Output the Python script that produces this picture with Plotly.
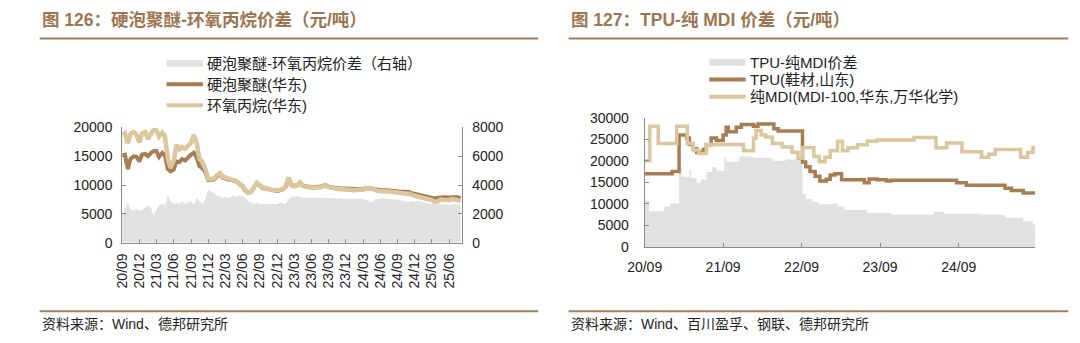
import pandas as pd
import plotly.graph_objects as go

# ---------------- 图126：硬泡聚醚-环氧丙烷价差 (semi-monthly, from 2020-09-01) ----------------
pe_dates = pd.date_range("2020-09-01", periods=119, freq="SMS")

po_price = [  # 环氧丙烷(华东)
    18700, 19000, 17300, 18900, 19200, 18800, 17400, 19000, 19200, 18000,
    18900, 19600, 19500, 18400, 19100, 18500, 14600, 13000, 14200, 17000,
    16200, 16600, 16300, 16900, 17400, 18700, 17300, 14600, 14000, 12900,
    11100, 11000, 11200, 11700, 12100, 11500, 11300, 11100, 11000, 10900,
    10700, 10300, 9900, 9100, 8700, 8800, 9700, 10400, 10000, 9600,
    9500, 9300, 9200, 9100, 9100, 9200, 9300, 9800, 11300, 10000,
    9800, 9900, 10500, 9900, 9700, 9600, 9500, 9500, 9600, 9600,
    9800, 9900, 9600, 9500, 9400, 9300, 9300, 9300, 9200, 9200,
    9200, 9100, 9200, 9200, 9200, 9500, 9500, 9400, 9200, 9000,
    9000, 8900, 8900, 8900, 8800, 8800, 8700, 8700, 8600, 8500,
    8500, 8300, 8200, 8000, 7900, 7800, 7600, 7500, 7400, 7100,
    7200, 7500, 7400, 7500, 7400, 7600, 7500, 7500, 7300,
]
pe_price = [  # 硬泡聚醚(华东)
    15200, 15300, 12800, 14600, 15000, 14900, 14100, 15300, 15400, 15000,
    15600, 15900, 15900, 14900, 15600, 15200, 12800, 12400, 12700, 14100,
    14000, 14500, 14300, 14800, 15300, 15600, 14800, 13300, 12900, 12300,
    10900, 10900, 11000, 11500, 11900, 11300, 11100, 11000, 10900, 10800,
    10600, 10200, 9800, 9000, 8700, 8800, 9600, 10300, 9900, 9500,
    9400, 9300, 9200, 9100, 9000, 9100, 9300, 9700, 11200, 10000,
    9900, 9900, 10400, 10000, 9800, 9700, 9600, 9600, 9700, 9700,
    9900, 10000, 9700, 9600, 9500, 9500, 9400, 9400, 9400, 9400,
    9400, 9300, 9300, 9300, 9300, 9500, 9500, 9400, 9300, 9200,
    9200, 9100, 9100, 9100, 9000, 9000, 8900, 8900, 8900, 8800,
    8800, 8600, 8500, 8400, 8300, 8200, 8000, 7900, 7900, 7700,
    7800, 7900, 7900, 7900, 7800, 7900, 7900, 7900, 7700,
]
pe_po_spread = [  # 硬泡聚醚-环氧丙烷价差（右轴）
    1900, 2400, 2850, 2300, 2200, 2400, 2200, 2300, 2500, 2600,
    2400, 1900, 2300, 2600, 2700, 2600, 3300, 2900, 2700, 2800,
    2700, 2900, 2700, 2800, 2900, 2600, 3100, 2900, 2700, 3000,
    3700, 3600, 3400, 3300, 3200, 3100, 3200, 3100, 3200, 3300,
    3200, 3300, 3200, 3100, 2900, 2800, 2700, 2800, 2700, 2700,
    2650, 2700, 2700, 2650, 2700, 2800, 2750, 2700, 3000, 3200,
    3200, 3250, 3200, 3100, 3150, 3100, 3100, 3150, 3100, 3100,
    3100, 3150, 3100, 3050, 3100, 3050, 3100, 3050, 3050, 3100,
    3050, 3050, 3100, 3050, 3050, 3000, 2900, 2800, 3000, 3050,
    3050, 3100, 3050, 3050, 3000, 3050, 3000, 2950, 2900, 2900,
    2850, 2900, 2850, 2900, 2850, 2800, 2750, 2700, 2700, 2650,
    2700, 2650, 2700, 2650, 2600, 2650, 2650, 2700, 2600,
]
pe_tickvals = pd.date_range("2020-09-01", "2025-06-01", freq="3MS")
pe_ticktext = ["20/09", "20/12", "21/03", "21/06", "21/09", "21/12", "22/03", "22/06",
               "22/09", "22/12", "23/03", "23/06", "23/09", "23/12", "24/03", "24/06",
               "24/09", "24/12", "25/03", "25/06"]

# ---------------- 图127：TPU-纯MDI价差 (weekly quotes, kept as step changes) ----------------
tpu_dates = ["2020-09-01", "2021-01-07", "2021-02-08", "2021-03-15", "2021-03-28", "2021-04-15",
             "2021-05-01", "2021-06-01", "2021-06-15", "2021-07-07", "2021-08-01", "2021-09-01",
             "2021-09-15", "2021-09-25", "2021-11-01", "2021-11-25", "2022-01-20", "2022-02-10",
             "2022-04-25", "2022-05-15", "2022-09-05", "2022-09-20", "2022-10-10", "2022-11-03",
             "2022-11-25", "2022-12-25", "2023-01-12", "2023-02-03", "2023-03-06", "2023-06-20",
             "2023-07-12", "2023-08-18", "2023-10-01", "2023-10-22", "2024-08-22", "2024-10-06",
             "2025-04-04", "2025-05-04", "2025-06-28", "2025-08-22"]
tpu_price = [17000, 17500, 26000, 25300, 23800, 22800, 21900, 22600, 23700, 25300,
             24700, 26000, 27800, 26700, 27800, 28400, 28000, 28500, 27400, 26900,
             19700, 18600, 17500, 16400, 15300, 15700, 16700, 17000, 15600, 14900,
             15800, 15600, 15300, 15500, 14900, 14300, 13600, 13100, 12500, 12500]

mdi_dates = ["2020-09-01", "2020-09-25", "2020-11-03", "2021-01-28", "2021-03-18", "2021-04-15",
             "2021-05-10", "2021-06-15", "2021-12-05", "2022-01-20", "2022-02-01", "2022-02-25",
             "2022-03-18", "2022-04-18", "2022-06-03", "2022-07-18", "2022-08-15", "2022-09-05",
             "2022-10-28", "2022-11-22", "2022-12-19", "2023-01-12", "2023-02-15", "2023-03-10",
             "2023-04-04", "2023-05-19", "2023-07-03", "2023-08-18", "2024-02-06", "2024-05-18",
             "2024-07-07", "2024-09-16", "2024-12-16", "2025-01-18", "2025-02-18", "2025-06-16",
             "2025-07-18", "2025-08-12", "2025-08-22"]
mdi_price = [20000, 28000, 24000, 28000, 24000, 22500, 21700, 23800, 22300, 25200,
             27000, 26000, 25500, 24000, 23200, 22000, 20600, 23000, 21000, 19800,
             20800, 22300, 24500, 22300, 23000, 23700, 24500, 24800, 25400, 23000,
             24100, 22100, 20800, 21500, 22600, 20800, 21900, 23000, 23000]

spd_dates = ["2020-09-01", "2020-09-21", "2020-12-01", "2020-12-28", "2021-02-08", "2021-02-20",
             "2021-03-28", "2021-04-05", "2021-05-01", "2021-05-20", "2021-06-15", "2021-07-12",
             "2021-08-01", "2021-09-06", "2021-09-15", "2021-11-15", "2022-01-18", "2022-04-18",
             "2022-06-18", "2022-09-05", "2022-09-20", "2022-10-20", "2022-11-20", "2023-01-25",
             "2023-02-15", "2023-03-20", "2023-07-03", "2023-10-22", "2024-05-08", "2024-06-25",
             "2024-12-10", "2025-04-04", "2025-06-28", "2025-08-12", "2025-08-22"]
tpu_mdi_spread = [10800, 8300, 9400, 10100, 17500, 16300, 18000, 16000, 14900, 15600,
                  17400, 18500, 17700, 20800, 19800, 21000, 20700, 20000, 20300, 12300,
                  11200, 10500, 9900, 10100, 9400, 8600, 7900, 7500, 8200, 7700,
                  7500, 6800, 6000, 5300, 5300]
tpu_tickvals = ["2020-09-01", "2021-09-01", "2022-09-01", "2023-09-01", "2024-09-01"]
tpu_ticktext = ["20/09", "21/09", "22/09", "23/09", "24/09"]

# ---------------- styling ----------------
W, H = 1080, 343
DARK = "#A97D52"
LIGHT = "#DCC69D"
GREY = "#E1E1E1"
BROWN = "#A47C57"
AXIS = "#8C8C8C"
TEXT = "#222222"
FONT = "Liberation Sans, Arial, Noto Sans CJK SC, sans-serif"


def px(x):
    return x / W


def py(y):
    return 1 - y / H


fig = go.Figure()

# left panel: spread area on the base (right-hand) axis, prices on the overlaying left axis
fig.add_trace(go.Scatter(x=pe_dates, y=pe_po_spread, mode="lines", line=dict(width=0),
                         fill="tozeroy", fillcolor=GREY, xaxis="x", yaxis="y",
                         name="硬泡聚醚-环氧丙烷价差（右轴）"))
fig.add_trace(go.Scatter(x=pe_dates, y=pe_price, mode="lines", line=dict(color=DARK, width=4),
                         xaxis="x", yaxis="y2", name="硬泡聚醚(华东)"))
fig.add_trace(go.Scatter(x=pe_dates, y=po_price, mode="lines", line=dict(color=LIGHT, width=4.5),
                         xaxis="x", yaxis="y2", name="环氧丙烷(华东)"))

# right panel
fig.add_trace(go.Scatter(x=spd_dates, y=tpu_mdi_spread, mode="lines", line=dict(width=0, shape="hv"),
                         fill="tozeroy", fillcolor=GREY, xaxis="x2", yaxis="y3",
                         name="TPU-纯MDI价差"))
fig.add_trace(go.Scatter(x=tpu_dates, y=tpu_price, mode="lines",
                         line=dict(color=DARK, width=3.5, shape="hv"),
                         xaxis="x2", yaxis="y3", name="TPU(鞋材,山东)"))
fig.add_trace(go.Scatter(x=mdi_dates, y=mdi_price, mode="lines",
                         line=dict(color=LIGHT, width=3.5, shape="hv"),
                         xaxis="x2", yaxis="y3", name="纯MDI(MDI-100,华东,万华化学)"))

tick_font = dict(family=FONT, size=14, color=TEXT)
common = dict(showgrid=False, zeroline=False, showline=True, linecolor=AXIS, linewidth=1,
              ticks="inside", ticklen=4, tickcolor=AXIS, tickwidth=1, tickfont=tick_font)

fig.update_layout(
    width=W, height=H,
    margin=dict(l=0, r=0, t=0, b=0),
    paper_bgcolor="white", plot_bgcolor="rgba(0,0,0,0)",
    showlegend=False, hovermode=False,
    xaxis=dict(domain=[px(106), px(452)], type="date", range=["2020-09-01", "2025-08-10"],
               anchor="y", tickmode="array", tickvals=pe_tickvals, ticktext=pe_ticktext,
               tickangle=-90, ticklabelstandoff=4, **common),
    yaxis=dict(domain=[py(246.3), py(125.3)], range=[0, 8000], dtick=2000, side="right",
               anchor="x", tickformat="d", ticklabelstandoff=6, **common),
    yaxis2=dict(overlaying="y", range=[0, 20000], dtick=5000, side="left", anchor="x",
                tickformat="d", ticklabelstandoff=6, **common),
    xaxis2=dict(domain=[px(637.3), px(1034.3)], type="date", range=["2020-09-01", "2025-08-22"],
                anchor="y3", tickmode="array", tickvals=tpu_tickvals, ticktext=tpu_ticktext,
                ticklabelstandoff=7, **common),
    yaxis3=dict(domain=[py(250.7), py(115)], range=[0, 30000], dtick=5000, side="left",
                anchor="x2", tickformat="d", ticklabelstandoff=12, **common),
)

shapes = []
annotations = []

# titles and rules
titles = [
    (22, 529, "<b>图 126：硬泡聚醚-环氧丙烷价差（元/吨）</b>"),
    (560, 1068, "<b>图 127：TPU-纯 MDI 价差（元/吨）</b>"),
]
for x0, x1, txt in titles:
    annotations.append(dict(x=px(x0), y=py(13), xref="paper", yref="paper", text=txt,
                            showarrow=False, xanchor="left", yanchor="middle",
                            font=dict(family=FONT, size=17.5, color="#9C7650")))
    shapes.append(dict(type="line", xref="paper", yref="paper", x0=px(x0), x1=px(x1),
                       y0=py(32), y1=py(32), line=dict(color=BROWN, width=2)))

# sources and bottom rules
sources = [
    (22, 529, "资料来源：Wind、德邦研究所"),
    (560, 1068, "资料来源：Wind、百川盈孚、钢联、德邦研究所"),
]
for x0, x1, txt in sources:
    shapes.append(dict(type="line", xref="paper", yref="paper", x0=px(x0), x1=px(x1),
                       y0=py(318), y1=py(318), line=dict(color=BROWN, width=2)))
    annotations.append(dict(x=px(x0), y=py(331), xref="paper", yref="paper", text=txt,
                            showarrow=False, xanchor="left", yanchor="middle",
                            font=dict(family=FONT, size=14, color=TEXT)))

# hand-placed legends
legends = [
    (151, 188, [(58, "area", "硬泡聚醚-环氧丙烷价差（右轴）"),
                (80, DARK, "硬泡聚醚(华东)"),
                (102, LIGHT, "环氧丙烷(华东)")]),
    (703, 740, [(57, "area", "TPU-纯MDI价差"),
                (75, DARK, "TPU(鞋材,山东)"),
                (93, LIGHT, "纯MDI(MDI-100,华东,万华化学)")]),
]
for x0, x1, rows in legends:
    for yy, style, label in rows:
        if style == "area":
            shapes.append(dict(type="rect", xref="paper", yref="paper", x0=px(x0), x1=px(x1),
                               y0=py(yy + 3.5), y1=py(yy - 3.5), fillcolor=GREY,
                               line=dict(width=0)))
        else:
            shapes.append(dict(type="line", xref="paper", yref="paper", x0=px(x0), x1=px(x1),
                               y0=py(yy), y1=py(yy), line=dict(color=style, width=4)))
        annotations.append(dict(x=px(x1 + 2), y=py(yy), xref="paper", yref="paper", text=label,
                                showarrow=False, xanchor="left", yanchor="middle",
                                font=dict(family=FONT, size=15, color=TEXT)))

fig.update_layout(shapes=shapes, annotations=annotations)
# the page body gets no default margin so the figure sits at the window origin
fig.write_html("out.html", config={"displayModeBar": False},
               post_script="document.body.style.margin='0';")
